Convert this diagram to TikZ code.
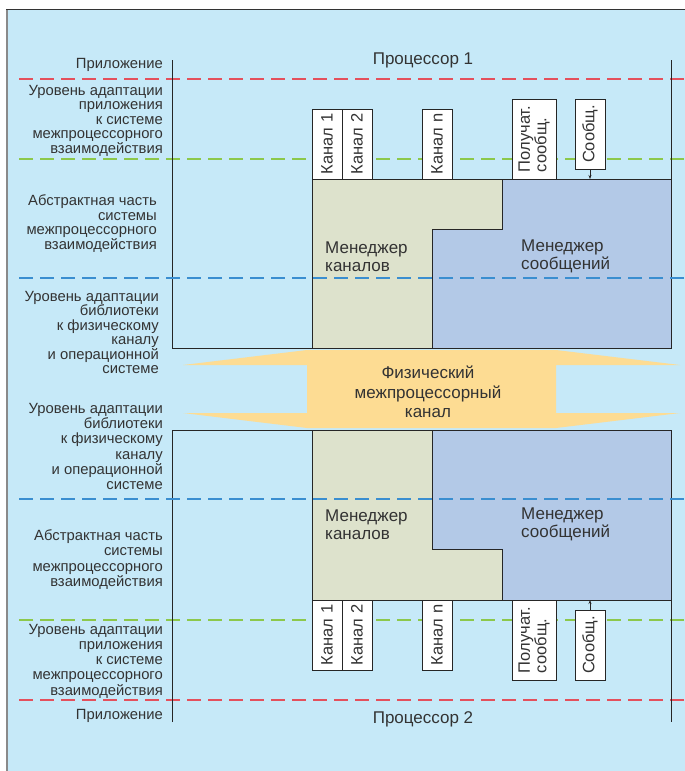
\documentclass[tikz,border=0pt]{standalone}
\usepackage{fontspec}
\setmainfont{Liberation Sans}
\usepackage{graphicx}
\usetikzlibrary{arrows.meta}
\definecolor{bg}{HTML}{C6E9F8}
\definecolor{chgreen}{HTML}{DDE2CC}
\definecolor{msgblue}{HTML}{B3C9E7}
\definecolor{pipe}{HTML}{FDDC93}
\definecolor{dred}{HTML}{E4505C}
\definecolor{dgreen}{HTML}{8CC84B}
\definecolor{dblue}{HTML}{3A8ED0}
\definecolor{ink}{HTML}{333333}
\definecolor{framegray}{HTML}{8A8A8A}
\begin{document}
\begin{tikzpicture}[x=1pt,y=-1pt,
  lbl/.style={font=\fontsize{14.8}{14.5}\selectfont, align=right, anchor=east, inner sep=0pt, text=ink},
  lblb/.style={lbl, font=\fontsize{14.8}{15.2}\selectfont},
  ttl/.style={font=\fontsize{17}{17}\selectfont, inner sep=0pt, text=ink},
  mgr/.style={font=\fontsize{17}{18.5}\selectfont, align=left, anchor=west, inner sep=0pt, text=ink},
  chbox/.style={draw=black!85, fill=white, line width=0.9pt, minimum width=30pt, minimum height=70pt, inner sep=0pt},
  rtxt/.style={rotate=90, font=\fontsize{16.5}{15.5}\selectfont, inner sep=0pt, text=ink},
  dl/.style={line width=1.3pt, dash pattern=on 14pt off 7pt},
  blk/.style={draw=black!85, line width=1pt},
  arr/.style={draw=black!85, line width=0.7pt, -{Stealth[length=4pt,width=3pt]}}
]
\useasboundingbox (0,0) rectangle (685,771);
% background
\fill[white] (0,0) rectangle (685,771);
\fill[bg] (6,9) rectangle (685,771);
\draw[framegray, line width=2pt] (7,9) -- (7,771);
\draw[black!80, line width=0.8pt] (6,9) -- (685,9);

% red and green dashed level lines
\draw[dl, dred] (19,79) -- (685,79);
\draw[dl, dgreen] (19,159) -- (685,159);
\draw[dl, dgreen] (19,620) -- (685,620);
\draw[dl, dred] (19,700) -- (685,700);

% upper block
\fill[chgreen] (312,179) -- (502,179) -- (502,229) -- (432,229) -- (432,348) -- (312,348) -- cycle;
\fill[msgblue] (502,179) -- (671,179) -- (671,348) -- (432,348) -- (432,229) -- (502,229) -- cycle;
\draw[blk] (172,60) -- (172,348) -- (671,348) -- (671,60);
\draw[blk] (312,348) -- (312,179) -- (671,179);
\draw[blk] (502,179) -- (502,229) -- (432,229) -- (432,348);

% lower block
\fill[chgreen] (312,430) -- (432,430) -- (432,549) -- (502,549) -- (502,600) -- (312,600) -- cycle;
\fill[msgblue] (432,430) -- (671,430) -- (671,600) -- (502,600) -- (502,549) -- (432,549) -- cycle;
\draw[blk] (172,722) -- (172,430) -- (671,430) -- (671,722);
\draw[blk] (312,430) -- (312,600) -- (671,600);
\draw[blk] (432,430) -- (432,549) -- (502,549) -- (502,600);

% blue dashed lines (over blocks)
\draw[dl, dblue] (19,278) -- (685,278);
\draw[dl, dblue] (19,499) -- (685,499);

% manager labels
\node[mgr] (chm1) at (325,256.5) {Менеджер\\каналов};
\node[mgr] (msm1) at (521,256.5) {Менеджер\\сообщений};
\node[mgr] (chm2) at (325,524.5) {Менеджер\\каналов};
\node[mgr] (msm2) at (521,524.5) {Менеджер\\сообщений};

% upper boxes
\node[chbox] (k1a) at (327,144) {};
\node[chbox] (k2a) at (357,144) {};
\node[chbox] (kna) at (437,144) {};
\node[chbox, minimum width=44pt, minimum height=80pt] (rcva) at (534,139) {};
\node[chbox] (msga) at (590,134) {};
\node[rtxt] at (k1a) {Канал 1};
\node[rtxt] at (k2a) {Канал 2};
\node[rtxt] at (kna) {Канал n};
\node[rtxt, align=left] at (rcva) {Получат.\\сообщ.};
\node[rtxt] at (msga) {Сообщ.};
\coordinate (ina) at (590,179);
\draw[arr] (msga.south) -- (ina);

% lower boxes
\node[chbox] (k1b) at (327,635) {};
\node[chbox] (k2b) at (357,635) {};
\node[chbox] (knb) at (437,635) {};
\node[chbox, minimum width=44pt, minimum height=80pt] (rcvb) at (534,640) {};
\node[chbox] (msgb) at (590,645) {};
\node[rtxt] at (k1b) {Канал 1};
\node[rtxt] at (k2b) {Канал 2};
\node[rtxt] at (knb) {Канал n};
\node[rtxt, align=left] at (rcvb) {Получат.\\сообщ.};
\node[rtxt] at (msgb) {Сообщ.};
\coordinate (inb) at (590,600);
\draw[arr] (msgb.north) -- (inb);

% physical channel
\fill[pipe] (183,365) -- (307,350) -- (556,350) -- (680,365) -- (556,365) -- (556,413) -- (680,413) -- (556,428) -- (307,428) -- (183,413) -- (307,413) -- (307,365) -- cycle;
\node[font=\fontsize{17}{19.5}\selectfont, align=center, inner sep=0pt, text=ink] (phys) at (428,392) {Физический\\межпроцессорный\\канал};

% titles
\node[ttl] (p1) at (423,60) {Процессор 1};
\node[ttl] (p2) at (423,719) {Процессор 2};

% left labels
\node[lbl] (app1) at (163,65) {Приложение};
\node[lbl] (ua1) at (163,120.5) {Уровень адаптации\\приложения\\к системе\\межпроцессорного\\взаимодействия};
\node[lbl] (ab1) at (157,223.5) {Абстрактная часть\\системы\\межпроцессорного\\взаимодействия};
\node[lbl] (ul1) at (159,332.5) {Уровень адаптации\\библиотеки\\к физическому\\каналу\\и операционной\\системе};
\node[lblb] (ul2) at (163,446.5) {Уровень адаптации\\библиотеки\\к физическому\\каналу\\и операционной\\системе};
\node[lblb] (ab2) at (163,559.5) {Абстрактная часть\\системы\\межпроцессорного\\взаимодействия};
\node[lblb] (ua2) at (163,661) {Уровень адаптации\\приложения\\к системе\\межпроцессорного\\взаимодействия};
\node[lbl] (app2) at (163,716) {Приложение};
\end{tikzpicture}
\end{document}
